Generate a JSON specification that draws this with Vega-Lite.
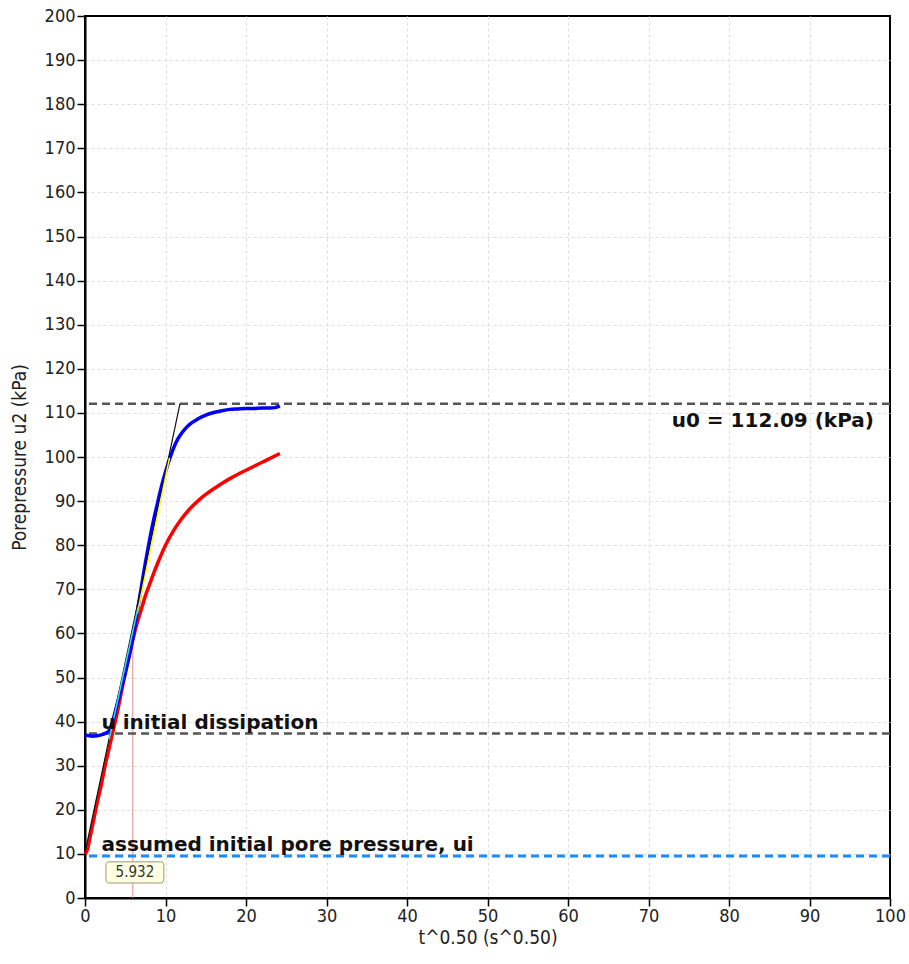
{
  "$schema": "https://vega.github.io/schema/vega-lite/v6.json",
  "width": 805,
  "height": 882,
  "autosize": "none",
  "padding": {"left": 85, "top": 16, "right": 19, "bottom": 66},
  "background": "white",
  "config": {
    "view": {"stroke": "black", "strokeWidth": 2},
    "axis": {
      "labelFont": "DejaVu Sans Condensed",
      "labelFontSize": 18,
      "labelColor": "#222",
      "titleFont": "DejaVu Sans Condensed",
      "titleFontSize": 19,
      "titleFontWeight": "normal",
      "titleColor": "#222",
      "domainColor": "black",
      "domainWidth": 2,
      "tickColor": "black",
      "tickWidth": 1.5,
      "tickSize": 8,
      "gridDash": [3, 3],
      "gridWidth": 1
    }
  },
  "datasets": {
    "blue": [
      {"t": 0, "u": 37.0}, {"t": 0.5, "u": 36.8}, {"t": 1.0, "u": 36.7}, {"t": 1.5, "u": 36.8}, {"t": 2.0, "u": 37.0},
      {"t": 2.5, "u": 37.3}, {"t": 3.0, "u": 38.0}, {"t": 3.5, "u": 40.5}, {"t": 4.0, "u": 44.0}, {"t": 4.5, "u": 47.5},
      {"t": 5.0, "u": 51.0}, {"t": 5.5, "u": 55.0}, {"t": 6.0, "u": 59.5}, {"t": 6.5, "u": 65.0}, {"t": 7.0, "u": 70.5},
      {"t": 7.5, "u": 76.0}, {"t": 8.0, "u": 81.0}, {"t": 8.5, "u": 85.5}, {"t": 9.0, "u": 89.5}, {"t": 9.5, "u": 93.3},
      {"t": 10.0, "u": 96.6}, {"t": 10.5, "u": 99.5}, {"t": 11.0, "u": 102.0}, {"t": 11.5, "u": 104.0}, {"t": 12.0, "u": 105.4},
      {"t": 12.5, "u": 106.5}, {"t": 13.0, "u": 107.4}, {"t": 14.0, "u": 108.6}, {"t": 15.0, "u": 109.5}, {"t": 16.0, "u": 110.1},
      {"t": 17.0, "u": 110.5}, {"t": 18.0, "u": 110.8}, {"t": 19.0, "u": 110.9}, {"t": 20.0, "u": 111.0}, {"t": 21.0, "u": 111.0},
      {"t": 22.0, "u": 111.1}, {"t": 23.0, "u": 111.1}, {"t": 23.6, "u": 111.2}, {"t": 24.2, "u": 111.6}
    ],
    "red": [
      {"t": 0, "u": 10.0}, {"t": 0.3, "u": 11.0}, {"t": 0.6, "u": 13.5}, {"t": 1.0, "u": 17.0}, {"t": 1.5, "u": 21.5},
      {"t": 2.0, "u": 25.5}, {"t": 2.5, "u": 30.0}, {"t": 3.0, "u": 34.0}, {"t": 3.5, "u": 38.0}, {"t": 4.0, "u": 42.0},
      {"t": 4.5, "u": 46.5}, {"t": 5.0, "u": 51.0}, {"t": 5.5, "u": 55.0}, {"t": 6.0, "u": 59.0}, {"t": 6.5, "u": 62.5},
      {"t": 7.0, "u": 65.5}, {"t": 7.5, "u": 68.5}, {"t": 8.0, "u": 71.0}, {"t": 8.5, "u": 73.5}, {"t": 9.0, "u": 75.8},
      {"t": 10.0, "u": 80.0}, {"t": 11.0, "u": 83.3}, {"t": 12.0, "u": 86.0}, {"t": 13.0, "u": 88.2}, {"t": 14.0, "u": 90.0},
      {"t": 15.0, "u": 91.5}, {"t": 16.0, "u": 92.8}, {"t": 17.0, "u": 94.0}, {"t": 18.0, "u": 95.1}, {"t": 19.0, "u": 96.1},
      {"t": 20.0, "u": 97.0}, {"t": 21.0, "u": 97.9}, {"t": 22.0, "u": 98.8}, {"t": 23.0, "u": 99.7}, {"t": 24.2, "u": 100.8}
    ],
    "tangent": [{"t": 0, "u": 10.3}, {"t": 11.8, "u": 112.09}],
    "yellow": [{"t": 6.5, "u": 64.5}, {"t": 10.5, "u": 99.8}],
    "cyan": [{"t": 3.0, "u": 36.0}, {"t": 6.6, "u": 66.0}],
    "vline": [{"t": 5.932, "u": 0}, {"t": 5.932, "u": 62}],
    "hlines": [
      {"u": 112.09, "kind": "u0"},
      {"u": 37.3, "kind": "uid"}
    ],
    "ui": [{"u": 9.5}],
    "labels": [
      {"t": 98.0, "u": 106.8, "label": "u0 = 112.09 (kPa)", "align": "right"},
      {"t": 2.05, "u": 38.25, "label": "u initial dissipation", "align": "left"},
      {"t": 2.05, "u": 10.65, "label": "assumed initial pore pressure, ui", "align": "left"}
    ],
    "box": [{"t": 2.6, "t2": 9.8, "u": 3.4, "u2": 8.2, "tc": 6.2, "uc": 5.8, "label": "5.932"}]
  },
  "layer": [
    {
      "data": {"name": "vline"},
      "mark": {"type": "line", "color": "#e88c8c", "strokeWidth": 1},
      "encoding": {
        "x": {"field": "t", "type": "quantitative", "scale": {"domain": [0, 100], "nice": false, "zero": true},
          "axis": {"values": [0,10,20,30,40,50,60,70,80,90,100], "title": "t^0.50 (s^0.50)", "labelPadding": 1, "titlePadding": 3, "labelFlush": false,
            "gridColor": {"condition": {"test": "datum.value == 100 || datum.value == 0", "value": "transparent"}, "value": "#dddddd"}}},
        "y": {"field": "u", "type": "quantitative", "scale": {"domain": [0, 200], "nice": false},
          "axis": {"values": [0,10,20,30,40,50,60,70,80,90,100,110,120,130,140,150,160,170,180,190,200], "title": "Porepressure u2 (kPa)", "labelPadding": 2, "titlePadding": 15, "labelFlush": false,
            "gridColor": {"condition": {"test": "datum.value == 200 || datum.value == 0", "value": "transparent"}, "value": "#dddddd"}}}
      }
    },
    {
      "data": {"name": "hlines"},
      "mark": {"type": "rule", "color": "#555555", "strokeWidth": 2.5, "strokeDash": [8, 5]},
      "encoding": {"y": {"field": "u", "type": "quantitative"}}
    },
    {
      "data": {"name": "ui"},
      "mark": {"type": "rule", "color": "#1a8cff", "strokeWidth": 3, "strokeDash": [8, 5]},
      "encoding": {"y": {"field": "u", "type": "quantitative"}}
    },
    {
      "data": {"name": "red"},
      "mark": {"type": "line", "color": "#ff0000", "strokeWidth": 3.5, "interpolate": "monotone"},
      "encoding": {"x": {"field": "t", "type": "quantitative"}, "y": {"field": "u", "type": "quantitative"}}
    },
    {
      "data": {"name": "blue"},
      "mark": {"type": "line", "color": "#0000ff", "strokeWidth": 3.5, "interpolate": "monotone"},
      "encoding": {"x": {"field": "t", "type": "quantitative"}, "y": {"field": "u", "type": "quantitative"}}
    },
    {
      "data": {"name": "tangent"},
      "mark": {"type": "line", "color": "#111111", "strokeWidth": 1.2},
      "encoding": {"x": {"field": "t", "type": "quantitative"}, "y": {"field": "u", "type": "quantitative"}}
    },
    {
      "data": {"name": "yellow"},
      "mark": {"type": "line", "color": "#ffff00", "strokeWidth": 1.5},
      "encoding": {"x": {"field": "t", "type": "quantitative"}, "y": {"field": "u", "type": "quantitative"}}
    },
    {
      "data": {"name": "cyan"},
      "mark": {"type": "line", "color": "#33dddd", "strokeWidth": 1.5},
      "encoding": {"x": {"field": "t", "type": "quantitative"}, "y": {"field": "u", "type": "quantitative"}}
    },
    {
      "data": {"name": "labels"},
      "transform": [{"filter": "datum.align == 'right'"}],
      "mark": {"type": "text", "align": "right", "baseline": "alphabetic", "font": "DejaVu Sans", "fontWeight": "bold", "fontSize": 20, "color": "#111"},
      "encoding": {"x": {"field": "t", "type": "quantitative"}, "y": {"field": "u", "type": "quantitative"}, "text": {"field": "label"}}
    },
    {
      "data": {"name": "labels"},
      "transform": [{"filter": "datum.align == 'left'"}],
      "mark": {"type": "text", "align": "left", "baseline": "alphabetic", "font": "DejaVu Sans", "fontWeight": "bold", "fontSize": 20, "color": "#111"},
      "encoding": {"x": {"field": "t", "type": "quantitative"}, "y": {"field": "u", "type": "quantitative"}, "text": {"field": "label"}}
    },
    {
      "data": {"name": "box"},
      "mark": {"type": "rect", "fill": "#ffffe1", "stroke": "#999977", "strokeWidth": 1, "cornerRadius": 3},
      "encoding": {"x": {"field": "t", "type": "quantitative"}, "x2": {"field": "t2"}, "y": {"field": "u", "type": "quantitative"}, "y2": {"field": "u2"}}
    },
    {
      "data": {"name": "box"},
      "mark": {"type": "text", "align": "center", "baseline": "middle", "font": "DejaVu Sans Condensed", "fontSize": 15, "color": "#333"},
      "encoding": {"x": {"field": "tc", "type": "quantitative"}, "y": {"field": "uc", "type": "quantitative"}, "text": {"field": "label"}}
    }
  ]
}
